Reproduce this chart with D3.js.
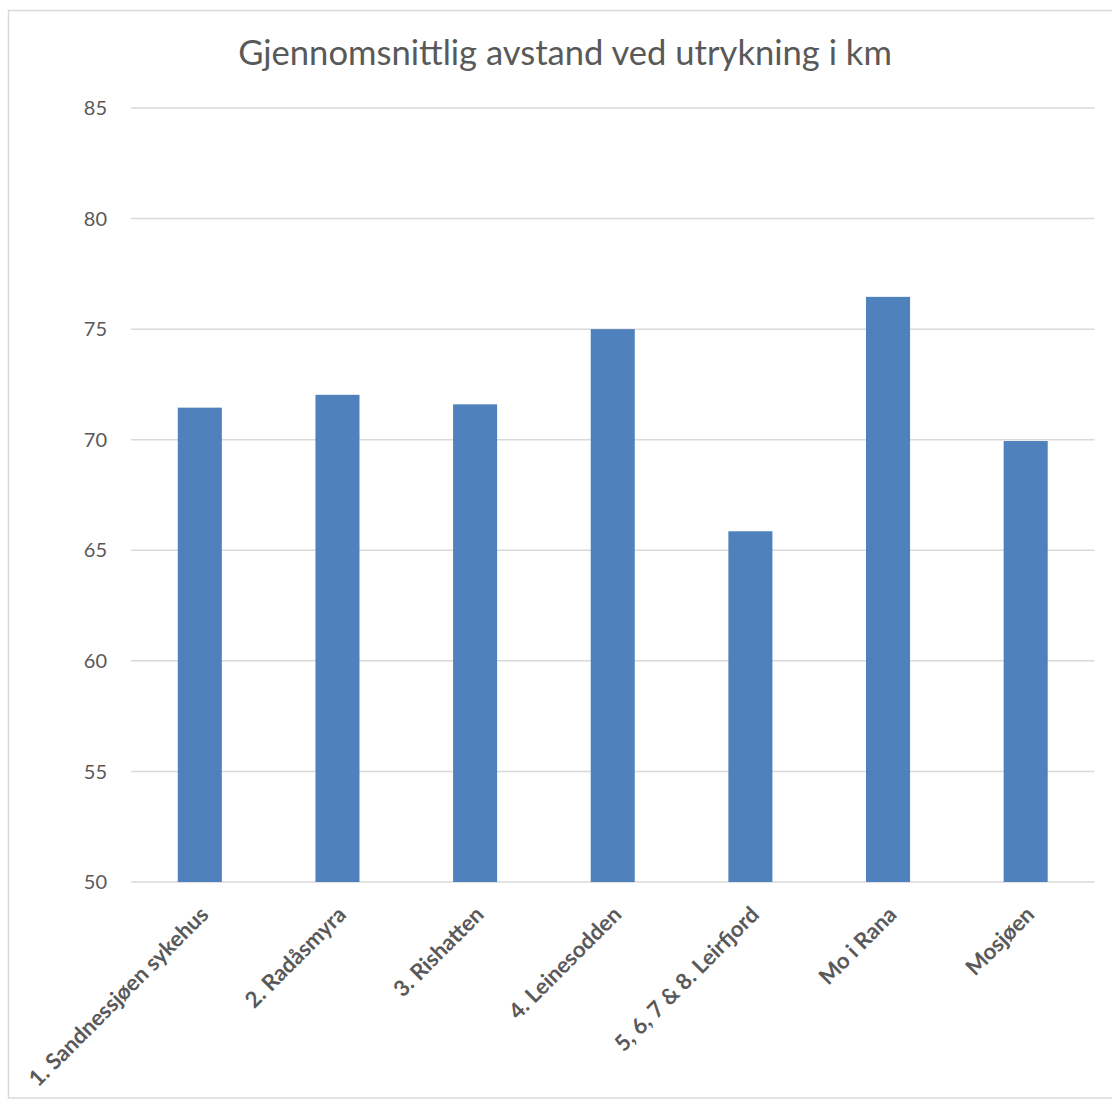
<!DOCTYPE html>
<html>
<head>
<meta charset="utf-8">
<script src="https://cdn.jsdelivr.net/npm/d3@7/dist/d3.min.js"></script>
<style>
  html, body { margin: 0; padding: 0; background: #fff; }
  svg { display: block; }
</style>
</head>
<body>
<svg id="chart" width="1112" height="1099"></svg>
<script>
const title = "Gjennomsnittlig avstand ved utrykning i km";
const categories = [
  "1. Sandnessjøen sykehus",
  "2. Radåsmyra",
  "3. Rishatten",
  "4. Leinesodden",
  "5, 6, 7 & 8. Leirfjord",
  "Mo i Rana",
  "Mosjøen"
];
const values = [71.45, 72.03, 71.6, 75.0, 65.86, 76.46, 69.94];
const yTicks = [50, 55, 60, 65, 70, 75, 80, 85];

const svg = d3.select("#chart");
const W = 1112, H = 1099;
const plot = { left: 131, right: 1094.5, top: 108, bottom: 882 };
const textColor = "#595959";

// outer border
svg.append("rect")
  .attr("x", 8.5).attr("y", 10.5)
  .attr("width", W + 20).attr("height", 1098 - 10.5)
  .attr("fill", "#fff").attr("stroke", "#d9d9d9").attr("stroke-width", 1.5);

const x = d3.scaleBand()
  .domain(categories)
  .range([plot.left, plot.right])
  .paddingInner(0.68)
  .paddingOuter(0.34);

const y = d3.scaleLinear()
  .domain([50, 85])
  .range([plot.bottom, plot.top]);

// gridlines
svg.append("g")
  .selectAll("line")
  .data(yTicks)
  .join("line")
  .attr("x1", plot.left).attr("x2", plot.right)
  .attr("y1", d => y(d)).attr("y2", d => y(d))
  .attr("stroke", "#d9d9d9").attr("stroke-width", 1.5);

// y axis labels
const yAxis = d3.axisLeft(y).tickValues(yTicks).tickSize(0).tickPadding(0);
const yg = svg.append("g")
  .attr("transform", `translate(${107},0)`)
  .call(yAxis);
yg.select(".domain").remove();
yg.selectAll("text")
  .attr("fill", textColor)
  .style("font-family", "Lato, 'Open Sans', sans-serif")
  .style("font-size", "20px")
  .attr("dy", "0.33em");

// bars
svg.append("g")
  .selectAll("rect")
  .data(values)
  .join("rect")
  .attr("x", (d, i) => x(categories[i]))
  .attr("width", x.bandwidth())
  .attr("y", d => y(d))
  .attr("height", d => y(50) - y(d))
  .attr("fill", "#4f81bd");

// x labels
const xl = svg.append("g");
const labels = xl.selectAll("text")
  .data(categories)
  .join("text")
  .attr("text-anchor", "end")
  .attr("transform", d => `translate(${x(d) + x.bandwidth() / 2 + 10},${916}) rotate(-45)`)
  .attr("fill", textColor)
  .style("font-family", "Lato, 'Open Sans', sans-serif")
  .style("font-weight", "bold")
  .style("font-size", "18px")
  .text(d => d);
// fit font size so that the first label has the reference length
const l0 = labels.node().getComputedTextLength();
const fs = 18 * 243 / l0;
labels.style("font-size", fs + "px");

// title
const t = svg.append("text")
  .attr("x", 565).attr("y", 65)
  .attr("text-anchor", "middle")
  .attr("fill", textColor)
  .style("font-family", "Lato, 'Open Sans', sans-serif")
  .style("font-size", "30px")
  .text(title);
const tl = t.node().getComputedTextLength();
t.style("font-size", (30 * 654 / tl) + "px");
</script>
</body>
</html>
